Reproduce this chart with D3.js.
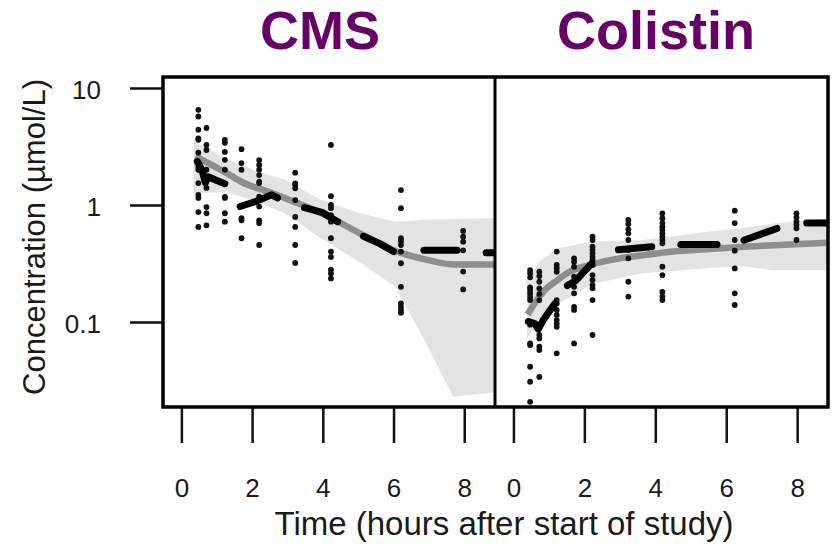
<!DOCTYPE html>
<html>
<head>
<meta charset="utf-8">
<script src="https://cdn.jsdelivr.net/npm/d3@7"></script>
<style>
  html, body { margin: 0; padding: 0; background: #fff; }
  svg { display: block; }
  text { font-family: "Liberation Sans", Arial, sans-serif; fill: #1a1a1a; }
</style>
</head>
<body>
<svg id="chart" width="832" height="547"></svg>
<script>
// ---- Panel titles ----
const panelTitles = ["CMS", "Colistin"];

// ---- Axis ticks ----
const xTicks = [0, 2, 4, 6, 8];
const yTicks = [0.1, 1, 10];
const yTickLabels = ["0.1", "1", "10"];

// ---- CMS: observed concentrations (µmol/L) by sampling time (h) ----
const cmsTimes = [0.48, 0.71, 1.23, 1.7, 2.2, 3.22, 4.23, 6.21, 7.97];
const cmsObs = [
  [6.5, 5.7, 4.4, 3.7, 3.6, 2.8, 2.3, 2.1, 2.0, 1.54, 1.22, 1.15, 0.87, 0.65],
  [4.55, 3.26, 2.95, 2.0, 1.64, 1.4, 0.96, 0.85, 0.67],
  [3.6, 3.4, 2.84, 2.43, 2.0, 1.17, 1.15, 0.85, 0.72],
  [3.0, 2.28, 2.0, 0.77, 0.74, 0.52],
  [2.42, 2.2, 2.0, 1.8, 1.58, 1.54, 1.18, 0.97, 0.74, 0.70, 0.455],
  [1.89, 1.53, 1.48, 1.39, 1.10, 0.79, 0.65, 0.455, 0.32],
  [3.26, 1.19, 1.0, 0.94, 0.82, 0.77, 0.72, 0.52, 0.40, 0.36, 0.28, 0.26, 0.236],
  [1.34, 0.94, 0.52, 0.49, 0.455, 0.40, 0.318, 0.2, 0.144, 0.135, 0.127, 0.12],
  [0.60, 0.536, 0.486, 0.41, 0.27, 0.19]
];
// CMS: population prediction, drawn as separate thick pieces
const cmsPred = [
  [[0.45, 2.35], [0.58, 2.0], [0.68, 1.55], [0.76, 1.74], [1.0, 1.62], [1.23, 1.52]],
  [[1.66, 0.97], [2.1, 1.07], [2.55, 1.22], [2.72, 1.15]],
  [[3.48, 0.95], [4.0, 0.86], [4.42, 0.72]],
  [[5.15, 0.54], [5.6, 0.47], [6.0, 0.40]],
  [[6.86, 0.41], [7.8, 0.41]],
  [[8.62, 0.39], [8.87, 0.39]]
];
// CMS: smooth trend and its interval
const cmsTrend = [[0.4, 2.6], [1.28, 1.87], [1.75, 1.55], [2.45, 1.3], [3.17, 1.07], [4.11, 0.81],
  [5.06, 0.57], [6.0, 0.41], [6.95, 0.34], [7.7, 0.31], [8.87, 0.31]];
const cmsBandT  = [0.35, 1.28, 2.2, 2.92, 3.9, 5.0, 6.05, 6.9, 7.69, 8.87];
const cmsBandLo = [1.25, 1.3, 1.05, 0.85, 0.53, 0.33, 0.20, 0.068, 0.023, 0.025];
const cmsBandHi = [3.5, 2.5, 1.9, 1.65, 1.12, 0.86, 0.72, 0.75, 0.76, 0.77];

// ---- Colistin: observed concentrations (µmol/L) by sampling time (h) ----
const colTimes = [0.47, 0.73, 1.22, 1.71, 2.23, 3.24, 4.2, 6.24, 7.98];
const colObs = [
  [0.278, 0.261, 0.241, 0.198, 0.188, 0.176, 0.164, 0.154, 0.101, 0.0975, 0.095, 0.0658, 0.0635, 0.0415, 0.0309, 0.0208],
  [0.269, 0.247, 0.221, 0.194, 0.174, 0.154, 0.0885, 0.0775, 0.0725, 0.0617, 0.0577, 0.034],
  [0.40, 0.307, 0.288, 0.269, 0.154, 0.144, 0.127, 0.115, 0.104, 0.097, 0.091, 0.054],
  [0.35, 0.328, 0.297, 0.244, 0.221, 0.2, 0.176, 0.135, 0.127, 0.0657],
  [0.536, 0.502, 0.44, 0.413, 0.386, 0.362, 0.339, 0.307, 0.252, 0.229, 0.207, 0.194, 0.154, 0.0775],
  [0.744, 0.688, 0.62, 0.573, 0.502, 0.413, 0.35, 0.221, 0.165],
  [0.849, 0.77, 0.70, 0.652, 0.612, 0.573, 0.536, 0.502, 0.47, 0.297, 0.252, 0.181, 0.165, 0.154],
  [0.894, 0.70, 0.502, 0.407, 0.287, 0.176, 0.14],
  [0.849, 0.785, 0.72, 0.675, 0.632, 0.502]
];
const colPred = [
  [[0.42, 0.101], [0.6, 0.097], [0.7, 0.087], [0.85, 0.105], [1.17, 0.144]],
  [[1.52, 0.205], [1.75, 0.225], [2.21, 0.317]],
  [[2.96, 0.415], [3.9, 0.44]],
  [[4.72, 0.46], [5.74, 0.46]],
  [[6.5, 0.50], [7.43, 0.63]],
  [[8.27, 0.70], [8.87, 0.70]]
];
const colTrend = [[0.4, 0.116], [0.7, 0.16], [0.9, 0.19], [1.17, 0.22], [1.5, 0.26], [2.2, 0.31],
  [3.0, 0.35], [3.6, 0.37], [4.5, 0.40], [5.5, 0.42], [6.5, 0.44], [7.5, 0.455], [8.87, 0.475]];
const colBandT  = [0.38, 0.75, 1.2, 2.2, 3.6, 5.5, 6.5, 7.3, 8.87];
const colBandLo = [0.072, 0.10, 0.14, 0.21, 0.26, 0.29, 0.30, 0.278, 0.278];
const colBandHi = [0.23, 0.33, 0.42, 0.49, 0.50, 0.59, 0.64, 0.69, 0.77];

// ---- Layout ----
const svg = d3.select("#chart");
const plotTop = 77, plotBottom = 407;
const panelEdges = [163, 495, 828];
const xDomain = [-0.52, 8.87];
const tickFont = 26;

const y = d3.scaleLog().domain([0.0188, 12.4]).range([plotBottom, plotTop]);

const panels = [
  { title: panelTitles[0], titleX: 320, times: cmsTimes, obs: cmsObs, pred: cmsPred,
    trend: cmsTrend, bandT: cmsBandT, bandLo: cmsBandLo, bandHi: cmsBandHi },
  { title: panelTitles[1], titleX: 656, times: colTimes, obs: colObs, pred: colPred,
    trend: colTrend, bandT: colBandT, bandLo: colBandLo, bandHi: colBandHi }
];

panels.forEach((p, i) => {
  const x = d3.scaleLinear().domain(xDomain).range([panelEdges[i], panelEdges[i + 1]]);
  const clipId = "clip" + i;
  svg.append("clipPath").attr("id", clipId).append("rect")
    .attr("x", panelEdges[i]).attr("y", plotTop)
    .attr("width", panelEdges[i + 1] - panelEdges[i]).attr("height", plotBottom - plotTop);
  const g = svg.append("g").attr("clip-path", `url(#${clipId})`);

  // interval band
  const band = p.bandT.map((t, k) => ({ t, lo: p.bandLo[k], hi: p.bandHi[k] }));
  g.append("path").datum(band)
    .attr("fill", "#e3e3e3")
    .attr("d", d3.area().x(d => x(d.t)).y0(d => y(d.lo)).y1(d => y(d.hi)));

  // smooth trend
  g.append("path").datum(p.trend)
    .attr("fill", "none").attr("stroke", "#8e8e8e").attr("stroke-width", 6.5)
    .attr("stroke-linecap", "butt")
    .attr("d", d3.line().x(d => x(d[0])).y(d => y(d[1])).curve(d3.curveMonotoneX));

  // observations
  const pts = [];
  p.times.forEach((t, k) => p.obs[k].forEach(v => pts.push([t, v])));
  g.selectAll("circle.obs").data(pts).join("circle")
    .attr("class", "obs")
    .attr("cx", d => x(d[0])).attr("cy", d => y(d[1]))
    .attr("r", 2.9).attr("fill", "#111");

  // population prediction pieces
  g.selectAll("path.pred").data(p.pred).join("path")
    .attr("class", "pred")
    .attr("fill", "none").attr("stroke", "#000").attr("stroke-width", 7)
    .attr("stroke-linecap", "round").attr("stroke-linejoin", "round")
    .attr("d", d3.line().x(d => x(d[0])).y(d => y(d[1])));

  // x axis
  const xAxis = d3.axisBottom(x).tickValues(xTicks).tickSize(36).tickPadding(36)
    .tickFormat(d3.format("d"));
  const gx = svg.append("g").attr("transform", `translate(0,${plotBottom})`).call(xAxis);
  gx.select(".domain").remove();
  gx.selectAll(".tick line").attr("stroke", "#111").attr("stroke-width", 2.5);
  gx.selectAll(".tick text").attr("font-size", tickFont).attr("fill", "#1a1a1a")
    .style("font-family", "'Liberation Sans', Arial, sans-serif");

  // panel title
  svg.append("text").attr("x", p.titleX).attr("y", 49)
    .attr("text-anchor", "middle").attr("font-size", 54).attr("font-weight", "bold")
    .style("fill", "#660066").text(p.title);
});

// y axis
const yAxis = d3.axisLeft(y).tickValues(yTicks).tickSize(33).tickPadding(29)
  .tickFormat((d, k) => yTickLabels[k]);
const gy = svg.append("g").attr("transform", `translate(${panelEdges[0]},0)`).call(yAxis);
gy.select(".domain").remove();
gy.selectAll(".tick line").attr("stroke", "#111").attr("stroke-width", 2.5);
gy.selectAll(".tick text").attr("font-size", tickFont).attr("fill", "#1a1a1a").attr("dy", "0.39em")
  .style("font-family", "'Liberation Sans', Arial, sans-serif");

// frame and panel divider
svg.append("rect").attr("x", panelEdges[0]).attr("y", plotTop)
  .attr("width", panelEdges[2] - panelEdges[0]).attr("height", plotBottom - plotTop)
  .attr("fill", "none").attr("stroke", "#000").attr("stroke-width", 3.5);
svg.append("line").attr("x1", panelEdges[1]).attr("x2", panelEdges[1])
  .attr("y1", plotTop).attr("y2", plotBottom).attr("stroke", "#000").attr("stroke-width", 3);

// axis titles
svg.append("text").attr("x", 504).attr("y", 535).attr("text-anchor", "middle")
  .attr("font-size", 33).text("Time (hours after start of study)");
svg.append("text").attr("transform", "translate(45,237) rotate(-90)")
  .attr("text-anchor", "middle").attr("font-size", 31).text("Concentration (µmol/L)");
</script>
</body>
</html>
